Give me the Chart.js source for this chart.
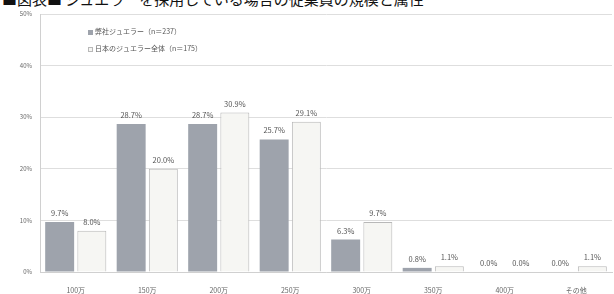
<!DOCTYPE html>
<html>
<head>
<meta charset="utf-8">
<script src="https://cdn.jsdelivr.net/npm/chart.js@4"></script>
<style>
  html, body { margin: 0; padding: 0; background: #fff; }
  #wrap { position: relative; width: 614px; height: 294px; overflow: hidden; }
  #title { position: absolute; left: 2px; top: -12px; font: 15px "Noto Sans CJK JP"; color: #111; white-space: nowrap; }
  canvas { position: absolute; left: 0; top: 0; }
</style>
</head>
<body>
<div id="wrap">
  <div id="title">■図表■ ジュエラーを採用している場合の従業員の規模と属性</div>
  <canvas id="myChart" width="614" height="294"></canvas>
</div>
<script>
// data
const categories = ['100万', '150万', '200万', '250万', '300万', '350万', '400万', 'その他'];
const seriesNames = ['弊社ジュエラー（n＝237）', '日本のジュエラー全体（n＝175）'];
const ownValues = [9.7, 28.7, 28.7, 25.7, 6.3, 0.8, 0.0, 0.0];
const allValues = [8.0, 20.0, 30.9, 29.1, 9.7, 1.1, 0.0, 1.1];
const yTicks = [0, 10, 20, 30, 40, 50];

// ラベル（棒の上の％）
const barLabels = {
    id: 'barLabels',
    afterDatasetsDraw(chart) {
        const ctx = chart.ctx;
        ctx.save();
        ctx.font = '7.5px "Noto Sans CJK JP"';
        ctx.fillStyle = '#555';
        ctx.textAlign = 'center';
        ctx.textBaseline = 'bottom';
        chart.data.datasets.forEach(function (ds, i) {
            chart.getDatasetMeta(i).data.forEach(function (bar, j) {
                ctx.fillText(ds.data[j].toFixed(1) + '%', bar.x, bar.y - 5);
            });
        });
        ctx.restore();
    }
};

// 凡例
const legendBox = {
    id: 'legendBox',
    afterDraw(chart) {
        const ctx = chart.ctx;
        ctx.save();
        ctx.font = '7px "Noto Sans CJK JP"';
        ctx.textBaseline = 'middle';
        chart.data.datasets.forEach(function (ds, i) {
            const y = 31 + i * 17;
            ctx.fillStyle = ds.backgroundColor;
            ctx.fillRect(88, y - 1, 5, 5);
            ctx.strokeStyle = ds.borderColor;
            ctx.lineWidth = 1;
            ctx.strokeRect(88.5, y - 0.5, 4, 4);
            ctx.fillStyle = '#555';
            ctx.fillText(ds.label, 95, y);
        });
        ctx.restore();
    }
};

const data = {
    labels: categories,
    datasets: [{
        label: seriesNames[0],
        data: ownValues,
        backgroundColor: '#9ea3ac',
        borderColor: '#9ea3ac',
        borderWidth: 0
    }, {
        label: seriesNames[1],
        data: allValues,
        backgroundColor: '#f6f6f3',
        borderColor: '#b8b8b8',
        borderWidth: 1
    }]
};

const config = {
    type: 'bar',
    data: data,
    options: {
        responsive: false,
        animation: false,
        layout: { padding: { top: 14, right: 2, left: 0, bottom: 0 } },
        datasets: { bar: { barPercentage: 0.9, categoryPercentage: 0.9 } },
        plugins: { legend: { display: false }, tooltip: { enabled: false } },
        scales: {
            x: {
                grid: { display: false },
                border: { color: '#d0d0d0' },
                ticks: { color: '#666', font: { size: 7, family: '"Noto Sans CJK JP"' }, padding: 6, maxRotation: 0 },
                afterFit(scale) { scale.height = 22; }
            },
            y: {
                min: 0,
                max: 50,
                afterBuildTicks(scale) { scale.ticks = yTicks.map(v => ({ value: v })); },
                grid: { color: '#dedede', drawTicks: false },
                border: { color: '#d0d0d0' },
                ticks: {
                    color: '#666',
                    font: { size: 6, family: '"Noto Sans CJK JP"' },
                    padding: 8,
                    callback: v => v + '%'
                },
                afterFit(scale) { scale.width = 40; }
            }
        }
    },
    plugins: [barLabels, legendBox]
};

const myChart = new Chart(document.getElementById('myChart'), config);
</script>
</body>
</html>
